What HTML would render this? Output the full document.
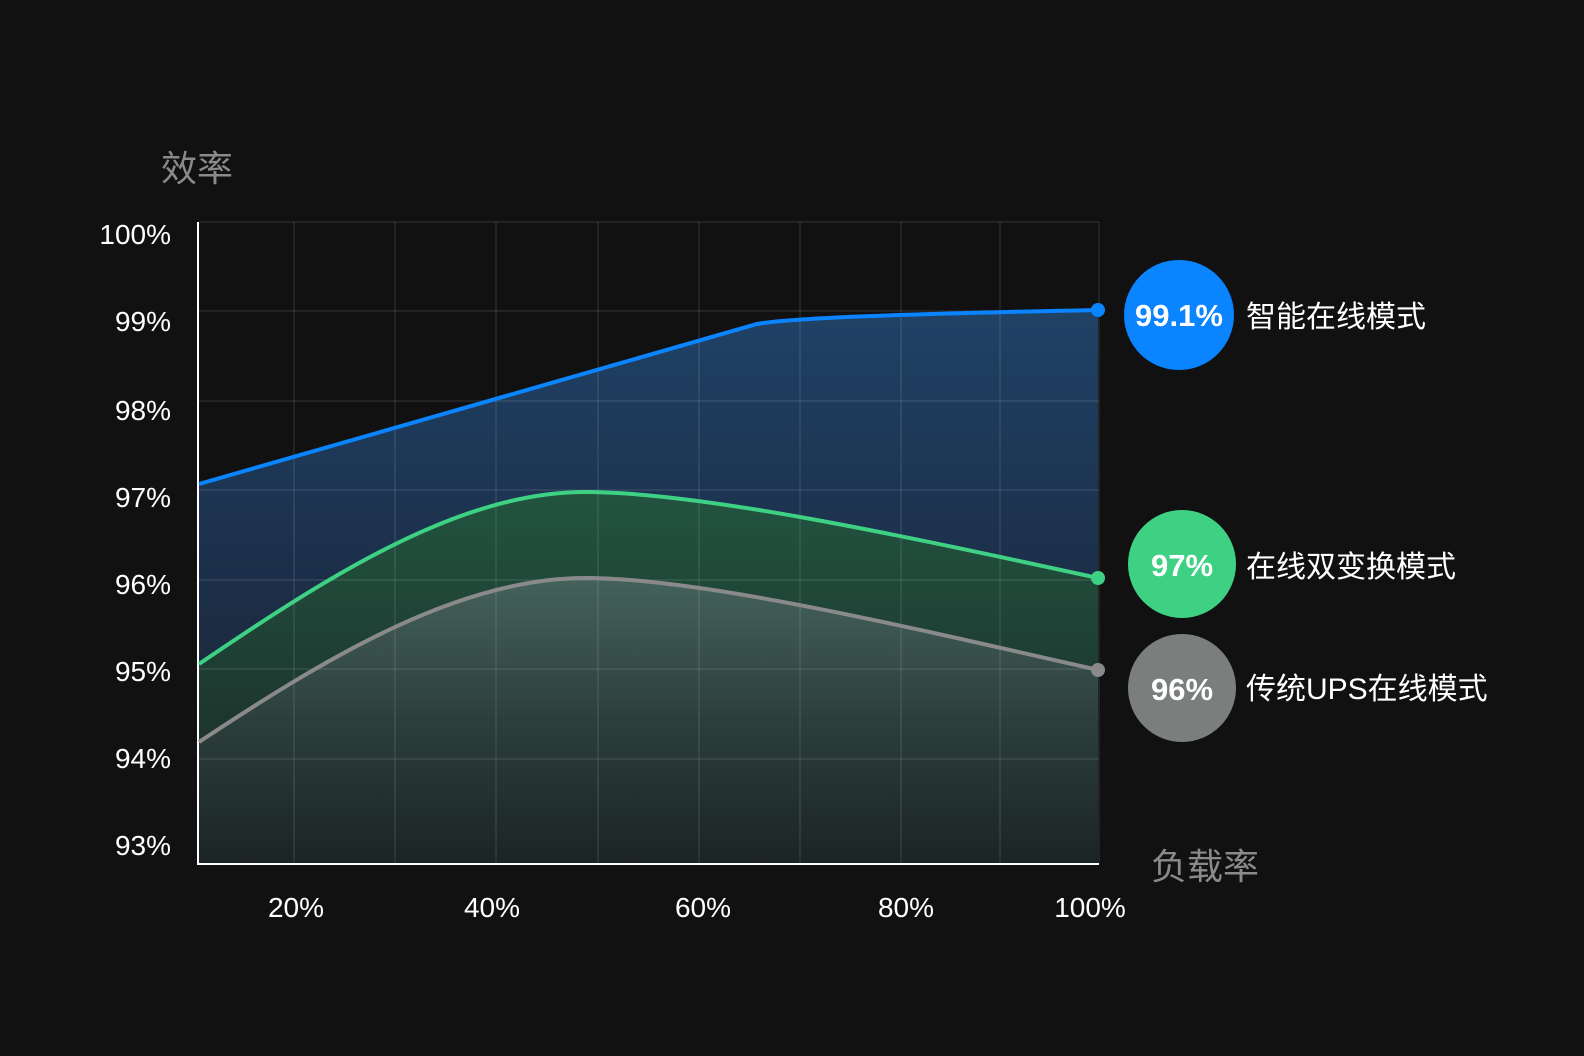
<!DOCTYPE html>
<html><head><meta charset="utf-8"><style>
html,body{margin:0;padding:0;background:#111111;}
svg{display:block}
</style></head><body>
<svg width="1584" height="1056" viewBox="0 0 1584 1056" xmlns="http://www.w3.org/2000/svg" font-family="'Liberation Sans','Noto Sans CJK SC',sans-serif">
<defs>
<linearGradient id="gb" x1="0" y1="0" x2="0" y2="1"><stop offset="0" stop-color="#1f4266"/><stop offset="0.5" stop-color="#1c2e48"/><stop offset="1" stop-color="#1a2226"/></linearGradient>
<linearGradient id="gg" x1="0" y1="0" x2="0" y2="1"><stop offset="0" stop-color="#225440"/><stop offset="1" stop-color="#1a2424"/></linearGradient>
<linearGradient id="gr" x1="0" y1="0" x2="0" y2="1"><stop offset="0" stop-color="#45625c"/><stop offset="0.5" stop-color="#2c3e3c"/><stop offset="1" stop-color="#1b2425"/></linearGradient>
</defs>
<rect width="1584" height="1056" fill="#111111"/>
<path d="M199,484 L757,324 C790,318 900,314 1098,310 L1098,864 L199,864 Z" fill="url(#gb)"/>
<path d="M199,664 C330,575 460,492 585,492 C700,492 900,535 1098,578 L1098,864 L199,864 Z" fill="url(#gg)"/>
<path d="M199,742 C330,655 460,578 585,578 C700,578 900,625 1098,670 L1098,864 L199,864 Z" fill="url(#gr)"/>
<g stroke="rgba(255,255,255,0.08)" stroke-width="2">
<line x1="199" y1="222" x2="1099" y2="222"/>
<line x1="199" y1="311" x2="1099" y2="311"/>
<line x1="199" y1="401" x2="1099" y2="401"/>
<line x1="199" y1="490" x2="1099" y2="490"/>
<line x1="199" y1="580" x2="1099" y2="580"/>
<line x1="199" y1="669" x2="1099" y2="669"/>
<line x1="199" y1="759" x2="1099" y2="759"/>
<line x1="294" y1="222" x2="294" y2="864"/>
<line x1="395" y1="222" x2="395" y2="864"/>
<line x1="496" y1="222" x2="496" y2="864"/>
<line x1="598" y1="222" x2="598" y2="864"/>
<line x1="699" y1="222" x2="699" y2="864"/>
<line x1="800" y1="222" x2="800" y2="864"/>
<line x1="901" y1="222" x2="901" y2="864"/>
<line x1="1000" y1="222" x2="1000" y2="864"/>
<line x1="1099" y1="222" x2="1099" y2="864"/>
</g>
<line x1="198" y1="222" x2="198" y2="865" stroke="#ffffff" stroke-width="2"/>
<line x1="197" y1="864" x2="1099" y2="864" stroke="#ffffff" stroke-width="2"/>
<path d="M199,484 L757,324 C790,318 900,314 1098,310" fill="none" stroke="#0a84ff" stroke-width="4"/>
<path d="M199,664 C330,575 460,492 585,492 C700,492 900,535 1098,578" fill="none" stroke="#3ed184" stroke-width="4"/>
<path d="M199,742 C330,655 460,578 585,578 C700,578 900,625 1098,670" fill="none" stroke="#8a8a8a" stroke-width="4"/>
<circle cx="1098" cy="310" r="7" fill="#0a84ff"/>
<circle cx="1098" cy="578" r="7" fill="#3ed184"/>
<circle cx="1098" cy="670" r="7" fill="#8a8a8a"/>
<g fill="#ffffff" font-size="28" text-anchor="end">
<text x="171" y="244">100%</text>
<text x="171" y="331">99%</text>
<text x="171" y="420">98%</text>
<text x="171" y="507">97%</text>
<text x="171" y="594">96%</text>
<text x="171" y="681">95%</text>
<text x="171" y="768">94%</text>
<text x="171" y="855">93%</text>
</g>
<g fill="#ffffff" font-size="28" text-anchor="middle">
<text x="296" y="917">20%</text>
<text x="492" y="917">40%</text>
<text x="703" y="917">60%</text>
<text x="906" y="917">80%</text>
<text x="1090" y="917">100%</text>
</g>
<text x="161" y="181" fill="#8a8a8a" font-size="36">效率</text>
<text x="1151" y="879" fill="#8a8a8a" font-size="36">负载率</text>
<circle cx="1179" cy="315" r="55" fill="#0a84ff"/>
<text x="1179" y="326" fill="#fff" font-size="31" font-weight="bold" text-anchor="middle">99.1%</text>
<text x="1246" y="327" fill="#fff" font-size="30">智能在线模式</text>
<circle cx="1182" cy="564" r="54" fill="#3ed184"/>
<text x="1182" y="576" fill="#fff" font-size="31" font-weight="bold" text-anchor="middle">97%</text>
<text x="1246" y="577" fill="#fff" font-size="30">在线双变换模式</text>
<circle cx="1182" cy="688" r="54" fill="#7a7f7e"/>
<text x="1182" y="700" fill="#fff" font-size="31" font-weight="bold" text-anchor="middle">96%</text>
<text x="1246" y="699" fill="#fff" font-size="30">传统UPS在线模式</text>
</svg>
</body></html>
